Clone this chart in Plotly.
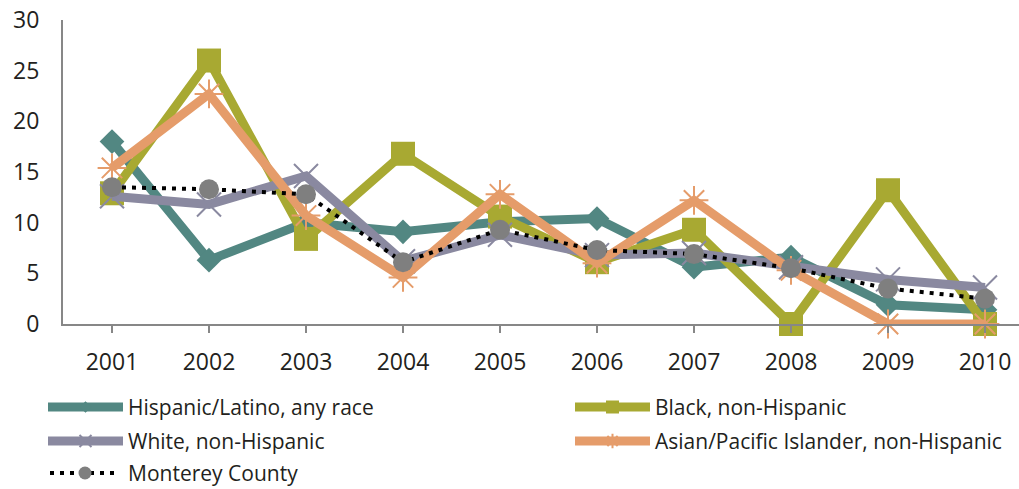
import plotly.graph_objects as go

# Rates by year and group
years = ["2001", "2002", "2003", "2004", "2005", "2006", "2007", "2008", "2009", "2010"]
hispanic = [18.0, 6.3, 10.0, 9.1, 10.1, 10.4, 5.6, 6.6, 1.9, 1.4]
black = [12.9, 26.0, 8.4, 16.8, 10.6, 6.1, 9.3, 0.0, 13.2, 0.0]
white = [12.6, 11.8, 14.6, 6.2, 8.8, 6.8, 7.0, 5.6, 4.4, 3.6]
asian = [15.4, 22.7, 10.7, 4.6, 12.8, 6.0, 12.2, 5.3, 0.0, 0.0]
monterey = [13.5, 13.3, 12.8, 6.1, 9.3, 7.3, 6.9, 5.5, 3.5, 2.5]

y_ticks = [0, 5, 10, 15, 20, 25, 30]

names = [
    "Hispanic/Latino, any race",
    "Black, non-Hispanic",
    "White, non-Hispanic",
    "Asian/Pacific Islander, non-Hispanic",
    "Monterey County",
]

W, H = 1019, 489
FONT = "Open Sans"
TXT = "#231f20"
AXIS = "#878787"

TEAL = "#528782"
OLIVE = "#a8a932"
PURPLE = "#8a89a0"
ORANGE = "#e59c6a"
GRAY = "#7f7f7f"

styles = [
    dict(line=dict(color=TEAL, width=9), marker=dict(symbol="diamond", size=19, color=TEAL)),
    dict(line=dict(color=OLIVE, width=9), marker=dict(symbol="square", size=24, color=OLIVE)),
    dict(line=dict(color=PURPLE, width=9),
         marker=dict(symbol="x-thin-open", size=24, color=PURPLE, line=dict(color=PURPLE, width=2))),
    dict(line=dict(color=ORANGE, width=9),
         marker=dict(symbol="asterisk-open", size=24, color=ORANGE, line=dict(color=ORANGE, width=2))),
    dict(line=dict(color="black", width=4, dash="4px,6px"),
         marker=dict(symbol="circle", size=20, color=GRAY)),
]

series = [hispanic, black, white, asian, monterey]

fig = go.Figure()
xs = list(range(len(years)))
for name, vals, st in zip(names, series, styles):
    fig.add_trace(go.Scatter(
        x=xs, y=vals, mode="lines+markers", name=name,
        line=st["line"], marker=st["marker"], cliponaxis=False,
        showlegend=False, xaxis="x", yaxis="y",
    ))

# Legend drawn on an overlay axis measured in pixels
legend_rows = [
    (48, 407), (575, 407),
    (48, 441), (575, 441),
    (48, 473),
]
legend_marker_sizes = [9, 13, 12, 12, 13]
for (lx, ly), name, st, msize in zip(legend_rows, names, styles, legend_marker_sizes):
    ln = dict(st["line"])
    if "dash" in ln:
        lx0, lx1 = lx + 2, lx + 72
    else:
        lx0, lx1 = lx, lx + 75
    mk = dict(st["marker"])
    mk["size"] = msize
    fig.add_trace(go.Scatter(
        x=[lx0, lx1], y=[ly, ly], mode="lines", line=ln,
        showlegend=False, hoverinfo="skip", xaxis="x2", yaxis="y2",
    ))
    fig.add_trace(go.Scatter(
        x=[(lx0 + lx1) / 2], y=[ly], mode="markers", marker=mk,
        showlegend=False, hoverinfo="skip", xaxis="x2", yaxis="y2",
    ))
    fig.add_annotation(
        x=lx + 78, y=ly, xref="x2", yref="y2", text=name, showarrow=False,
        xanchor="left", yanchor="middle", font=dict(family=FONT, size=21, color=TXT),
    )

x_left, x_zero_px, y_top_px, y_zero_px = 63, 112, 20, 324
step = 97
x_range = [-(x_zero_px - x_left) / step, (W - x_zero_px) / step]

fig.update_layout(
    width=W, height=H,
    margin=dict(l=0, r=0, t=0, b=0, pad=0, autoexpand=False),
    paper_bgcolor="white", plot_bgcolor="rgba(0,0,0,0)",
    font=dict(family=FONT, color=TXT),
    xaxis=dict(
        domain=[x_left / W, 1.0],
        range=x_range,
        tickmode="array", tickvals=xs, ticktext=years,
        showgrid=False, zeroline=False, automargin=False,
        showline=True, linecolor=AXIS, linewidth=2,
        ticks="outside", ticklen=7, tickwidth=2, tickcolor=AXIS,
        tickfont=dict(family=FONT, size=23, color=TXT),
        ticklabelstandoff=9,
        anchor="y",
    ),
    yaxis=dict(
        domain=[(H - y_zero_px) / H, (H - y_top_px) / H],
        range=[0, 30],
        tickmode="array", tickvals=y_ticks,
        showgrid=False, zeroline=False, automargin=False,
        showline=True, linecolor=AXIS, linewidth=2,
        ticks="", tickfont=dict(family=FONT, size=23, color=TXT),
        ticklabelstandoff=17,
        anchor="x",
    ),
    xaxis2=dict(domain=[0, 1], range=[0, W], visible=False, anchor="y2",
                fixedrange=True, automargin=False),
    yaxis2=dict(domain=[0, 1], range=[H, 0], visible=False, anchor="x2",
                fixedrange=True, automargin=False),
)

fig.write_html("out.html")
